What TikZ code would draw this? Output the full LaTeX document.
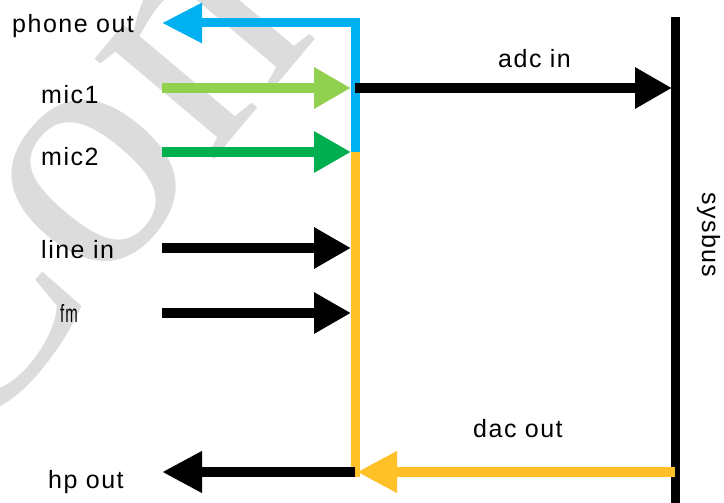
\documentclass[tikz,border=0pt]{standalone}
\usepackage{graphicx}
\usepackage{fontspec}
\setmainfont{Liberation Sans}
\newfontfamily\lblfont[LetterSpace=6]{Liberation Sans}
\newfontfamily\wmfont{Liberation Serif}
\usetikzlibrary{arrows.meta}
\definecolor{phoneblue}{RGB}{0,176,240}
\definecolor{micagreen}{RGB}{146,208,80}
\definecolor{micbgreen}{RGB}{0,176,80}
\definecolor{dacyellow}{RGB}{255,192,40}
\definecolor{wmgray}{RGB}{220,220,220}
\begin{document}
\begin{tikzpicture}[x=1pt,y=-1pt,
    sig/.style={line width=10pt,-{Triangle[length=37pt,width=39pt]}},
    outsig/.style={line width=10pt,-{Triangle[length=40pt,width=39pt]}},
    lbl/.style={anchor=base west,inner sep=0pt,font=\lblfont\fontsize{25}{30}\selectfont}]
  \useasboundingbox (0,0) rectangle (724,503);
  % watermark
  \node[anchor=base west,inner sep=0pt,rotate=50,text=wmgray,
    font=\wmfont\fontsize{340}{340}\selectfont] (wm) at (-46,470) {Con};
  % labels
  \node[lbl] (phone) at (12,33) {phone out};
  \node[lbl] (mic1) at (41,103) {mic1};
  \node[lbl] (mic2) at (41,165) {mic2};
  \node[lbl] (linein) at (41,258) {line in};
  \node[lbl] (fm) at (60,322) {\scalebox{0.6}[1]{fm}};
  \node[lbl] (hpout) at (48,488) {hp out};
  \node[lbl] (adcin) at (498,68) {adc in};
  \node[lbl] (dacout) at (473,437) {dac out};
  \node[lbl,rotate=-90] (sysbus) at (702,192) {sysbus};
  % junction points
  \coordinate (jtop) at (355,23);
  \coordinate (jadc) at (355,88);
  \coordinate (jmid) at (355,152);
  \coordinate (jlow) at (355,477);
  \coordinate (jhp) at (355,472);
  \coordinate (busT) at (675,17);
  \coordinate (busB) at (675,503);
  \coordinate (busadc) at (672,88);
  \coordinate (busdac) at (675,472);
  \coordinate (phonetip) at (162,23);
  \coordinate (hptip) at (162,472);
  \coordinate (dactip) at (357,472);
  \coordinate (mic1s) at (162,88);
  \coordinate (mic1t) at (351,88);
  \coordinate (mic2s) at (162,152);
  \coordinate (mic2t) at (351,152);
  \coordinate (lines) at (162,248);
  \coordinate (linet) at (351,248);
  \coordinate (fms) at (162,313);
  \coordinate (fmt) at (351,313);
  % buses
  \draw[line width=9pt] (busT) -- (busB);
  \draw[dacyellow,line width=9pt] (jmid) -- (jlow);
  \draw[phoneblue,line width=9pt,-{Triangle[length=40pt,width=38pt]}]
    (jmid) -- (jtop) -- (phonetip);
  % signals
  \draw[sig] (jadc) -- (busadc);
  \draw[outsig] (jhp) -- (hptip);
  \draw[outsig,dacyellow] (busdac) -- (dactip);
  \draw[sig,micagreen] (mic1s) -- (mic1t);
  \draw[sig,micbgreen] (mic2s) -- (mic2t);
  \draw[sig] (lines) -- (linet);
  \draw[sig] (fms) -- (fmt);
\end{tikzpicture}
\end{document}
